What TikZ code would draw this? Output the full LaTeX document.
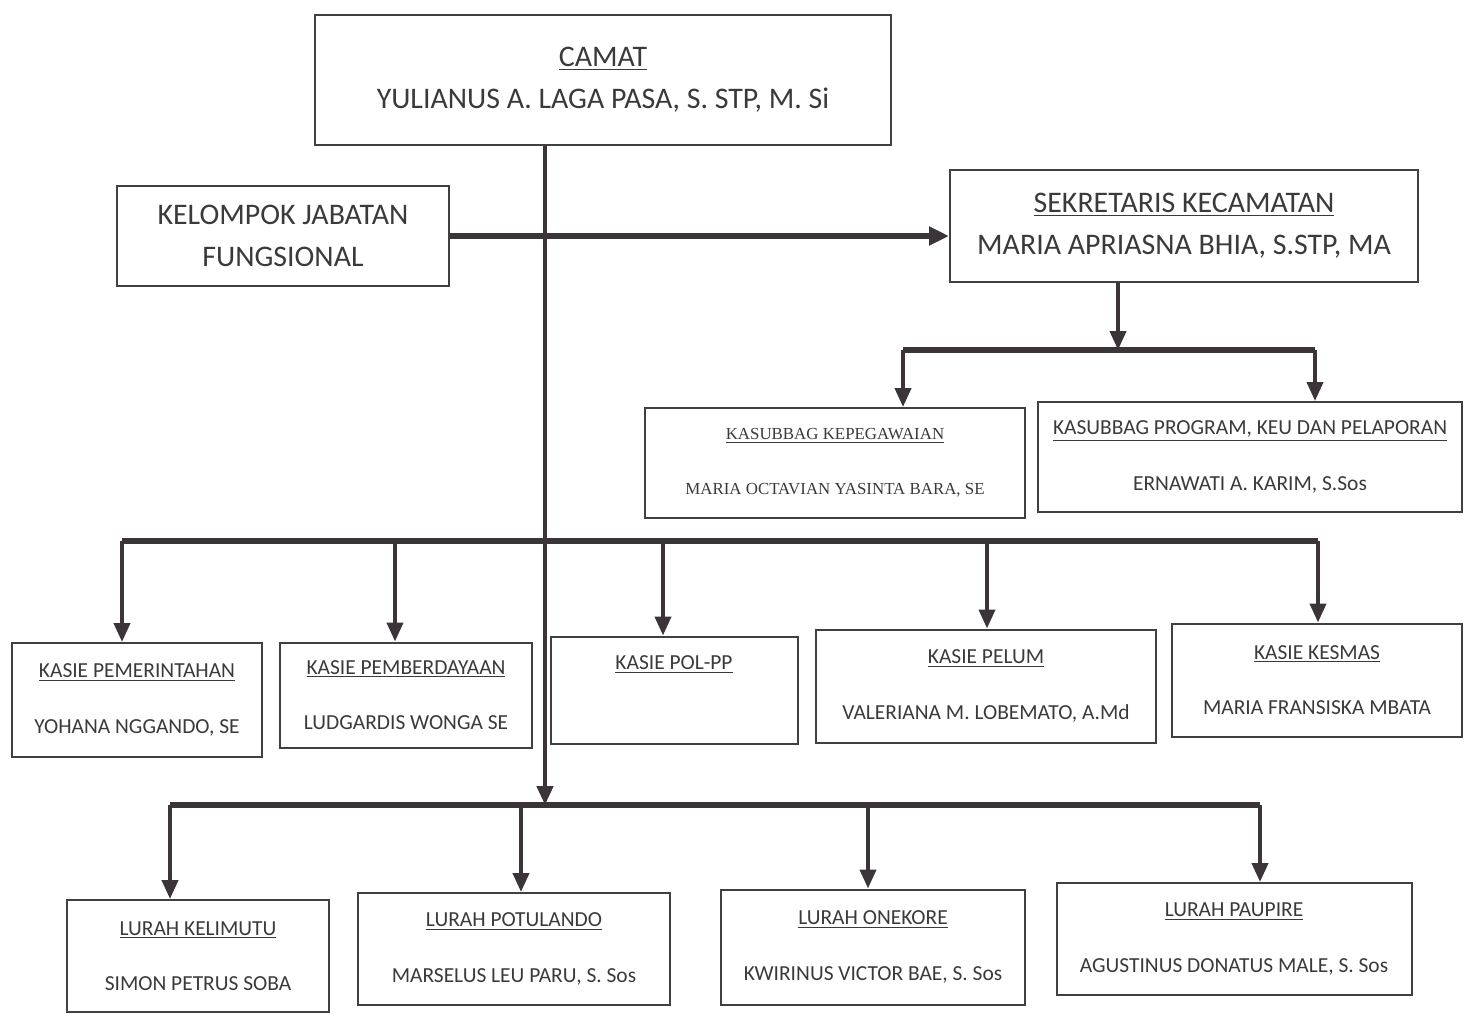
\documentclass[tikz,border=0pt]{standalone}
\usepackage{fontspec}
\setmainfont{Carlito}
\newfontfamily\serifsmall{Liberation Serif}
\usetikzlibrary{arrows.meta}
\definecolor{linegrey}{HTML}{3B3439}
\definecolor{inkgrey}{HTML}{3A3A3A}
\tikzset{
	unitbox/.style={draw=black!75, line width=0.4mm, text=inkgrey, align=center, inner sep=0pt},
	bigtext/.style={font=\fontsize{17}{24}\selectfont},
	smalltext/.style={font=\fontsize{12.2}{31.5}\selectfont},
	busline/.style={line width=1.2mm, color=linegrey},
	trunkline/.style={line width=0.9mm, color=linegrey},
	droparrow/.style={line width=0.8mm, color=linegrey, -{Triangle[width=3.2mm,length=3.8mm]}},
}

\begin{document}
\begin{tikzpicture}[x=0.2mm, y=-0.2mm]
			%%%%% START %%%%%
			\useasboundingbox (0,0) rectangle (1466,1013);
			
			% top
			\node[unitbox, bigtext, minimum width=115.2mm, minimum height=26mm] (camat) at (603,80)
				{\underline{CAMAT}\\YULIANUS A. LAGA PASA, S. STP, M. Si};
			\node[unitbox, bigtext, minimum width=66.4mm, minimum height=20mm] (kelompok) at (283,236)
				{KELOMPOK JABATAN\\FUNGSIONAL};
			\node[unitbox, bigtext, minimum width=93.6mm, minimum height=22.4mm] (sekre) at (1184,226)
				{\underline{SEKRETARIS KECAMATAN}\\MARIA APRIASNA BHIA, S.STP, MA};
			
			% kasubbag
			\node[unitbox, font=\serifsmall\fontsize{9.6}{31.5}\selectfont, minimum width=76mm, minimum height=22mm] (kepeg) at (835,463)
				{\underline{KASUBBAG KEPEGAWAIAN}\\MARIA OCTAVIAN YASINTA BARA, SE};
			\node[unitbox, smalltext, minimum width=84.8mm, minimum height=22mm] (program) at (1250,457)
				{\underline{KASUBBAG PROGRAM, KEU DAN PELAPORAN}\\ERNAWATI A. KARIM, S.Sos};
			
			% kasie
			\node[unitbox, smalltext, minimum width=50mm, minimum height=22.8mm] (pemerintahan) at (137,700)
				{\underline{KASIE PEMERINTAHAN}\\YOHANA NGGANDO, SE};
			\node[unitbox, smalltext, minimum width=50.4mm, minimum height=21mm] (pemberdayaan) at (406,695)
				{\underline{KASIE PEMBERDAYAAN}\\LUDGARDIS WONGA SE};
			\node[unitbox, smalltext, minimum width=49.4mm, minimum height=21.4mm] (polpp) at (674,690)
				{\underline{KASIE POL-PP}\\\mbox{}};
			\node[unitbox, smalltext, minimum width=68mm, minimum height=22.6mm] (pelum) at (986,686)
				{\underline{KASIE PELUM}\\VALERIANA M. LOBEMATO, A.Md};
			\node[unitbox, smalltext, minimum width=58mm, minimum height=22.6mm] (kesmas) at (1317,680)
				{\underline{KASIE KESMAS}\\MARIA FRANSISKA MBATA};
			
			% lurah
			\node[unitbox, smalltext, minimum width=52.2mm, minimum height=22.4mm] (kelimutu) at (198,956)
				{\underline{LURAH KELIMUTU}\\SIMON PETRUS SOBA};
			\node[unitbox, smalltext, minimum width=62.4mm, minimum height=22.4mm] (potulando) at (514,949)
				{\underline{LURAH POTULANDO}\\MARSELUS LEU PARU, S. Sos};
			\node[unitbox, smalltext, minimum width=60.8mm, minimum height=23mm] (onekore) at (873,947)
				{\underline{LURAH ONEKORE}\\KWIRINUS VICTOR BAE, S. Sos};
			\node[unitbox, smalltext, minimum width=71mm, minimum height=22.4mm] (paupire) at (1234,939)
				{\underline{LURAH PAUPIRE}\\AGUSTINUS DONATUS MALE, S. Sos};
			
			% bus points
			\coordinate (kasiejoin) at (545,541);
			\coordinate (lurahjoin) at (545,805);
			\coordinate (sekjoin) at (1118,350);
			\coordinate (sekleft) at (903,350);
			\coordinate (sekright) at (1315,350);
			\coordinate (kasieleft) at (122,541);
			\coordinate (kasieright) at (1318,541);
			\coordinate (lurahleft) at (170,805);
			\coordinate (lurahright) at (1260,805);
			
			% sekretariat
			\draw[busline, -{Triangle[width=3.6mm,length=4mm]}] (kelompok.east) -- (kelompok.east -| sekre.west);
			\draw[droparrow] (sekre.south -| sekjoin) -- (sekjoin);
			\draw[busline] (sekleft) -- (sekright);
			\draw[droparrow] (sekleft) -- (sekleft |- kepeg.north);
			\draw[droparrow] (sekright) -- (sekright |- program.north);
			
			% kasie
			\draw[busline] (kasieleft) -- (kasieright);
			\foreach \dx/\tgt in {122/pemerintahan, 395/pemberdayaan, 663/polpp, 987/pelum, 1318/kesmas}{
				\path (\dx,541) coordinate (top);
				\draw[droparrow] (top) -- (top |- \tgt.north);
			}
			
			% lurah
			\draw[busline] (lurahleft) -- (lurahright);
			\foreach \dx/\tgt in {170/kelimutu, 521/potulando, 868/onekore, 1260/paupire}{
				\path (\dx,805) coordinate (top);
				\draw[droparrow] (top) -- (top |- \tgt.north);
			}
			
			% trunk
			\draw[trunkline, -{Triangle[width=3.2mm,length=3.8mm]}] (camat.south -| lurahjoin) -- (lurahjoin);
			%%%%% END %%%%%
\end{tikzpicture}
\end{document}
